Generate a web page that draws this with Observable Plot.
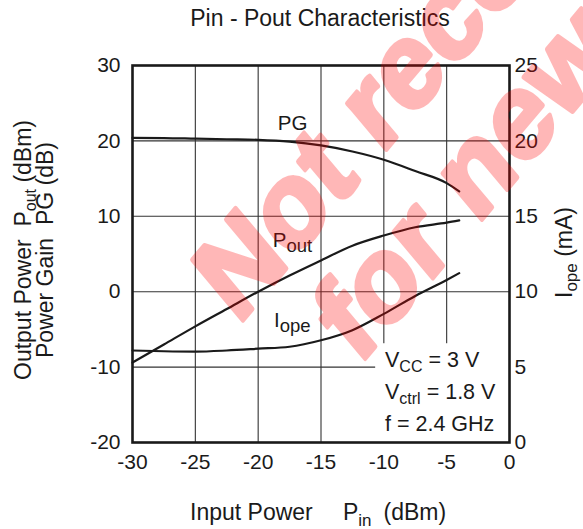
<!DOCTYPE html>
<html><head><meta charset="utf-8">
<script src="https://cdn.jsdelivr.net/npm/d3@7"></script>
<script src="https://cdn.jsdelivr.net/npm/@observablehq/plot@0.6"></script>
<style>body{margin:0;background:#fff} svg{display:block}</style>
</head><body><div id="chart"></div>
<script>
// Data
const pinDbm  = [-30, -27.5, -25, -22.5, -20, -17.5, -15, -12.5, -10, -7.5, -5, -4];
const pgDb    = [20.4, 20.38, 20.3, 20.22, 20.14, 19.9, 19.4, 18.6, 17.5, 16.0, 14.4, 13.3];
const poutDbm = [-9.4, -7.0, -4.6, -2.3, 0.0, 2.15, 4.15, 6.1, 7.45, 8.55, 9.15, 9.45];
const iopeMa  = [6.1, 6.05, 6.03, 6.1, 6.22, 6.35, 6.78, 7.45, 8.53, 9.72, 10.78, 11.23];
const xTicks  = [-30, -25, -20, -15, -10, -5, 0];
const yTicks  = [-20, -10, 0, 10, 20, 30];
const iTicks  = [0, 5, 10, 15, 20, 25];
const curveLabels = ["PG", "P", "I"];
const curveSubs   = ["", "out", "ope"];
const labelX = [-18.4, -18.8, -18.7];
const labelY = [21.4, 5.9, -4.7];
const conditions = [["V", "CC", " = 3 V"], ["V", "ctrl", " = 1.8 V"], ["f = 2.4 GHz", "", ""]];
const condBox = {x1: -10.65, x2: 0, y1: -20, y2: -6.9};

const font = "'Liberation Sans', Arial, Helvetica, sans-serif";
const ink = "#1a1a1a";
const toLeft = m => 2 * m - 20;   // right axis (mA) -> left axis units
const rows = pinDbm.map((x, i) => ({x, pg: pgDb[i], pout: poutDbm[i], iope: toLeft(iopeMa[i])}));
const hyphen = d => String(d);

const plot = Plot.plot({
  width: 583, height: 529,
  marginTop: 65, marginBottom: 87, marginLeft: 132, marginRight: 74,
  x: {domain: [-30, 0]},
  y: {domain: [-20, 30]},
  style: {fontFamily: font, fontSize: "21px", color: ink, background: "#fff", overflow: "visible"},
  marks: [
    Plot.ruleX(xTicks.slice(1, -1), {stroke: "#333", strokeWidth: 1.1}),
    Plot.ruleY(yTicks.slice(1, -1), {stroke: "#333", strokeWidth: 1.1}),
    Plot.rect([condBox], {x1: "x1", x2: "x2", y1: "y1", y2: "y2", fill: "#fff"}),
    Plot.line(rows, {x: "x", y: "pg", curve: "monotone-x", stroke: ink, strokeWidth: 2.2}),
    Plot.line(rows, {x: "x", y: "pout", curve: "monotone-x", stroke: ink, strokeWidth: 2.2}),
    Plot.line(rows, {x: "x", y: "iope", curve: "monotone-x", stroke: ink, strokeWidth: 2.2}),
    Plot.frame({stroke: ink, strokeWidth: 2.6}),
    Plot.axisX(xTicks, {anchor: "bottom", tickSize: 0, tickPadding: 12, label: null, fontSize: 21, tickFormat: hyphen}),
    Plot.axisY(yTicks, {anchor: "left", tickSize: 0, tickPadding: 12, label: null, fontSize: 21, tickFormat: hyphen}),
    Plot.axisY(iTicks.map(toLeft), {anchor: "right", tickSize: 0, tickPadding: 5, label: null, fontSize: 21,
      tickFormat: v => String((v + 20) / 2)})
  ]
});

const svg = d3.select(plot);
const sx = plot.scale("x"), sy = plot.scale("y");
const T = (sel) => sel.attr("font-family", font).attr("fill", ink).attr("text-anchor", "start");

// curve labels
curveLabels.forEach((lab, i) => {
  const t = T(svg.append("text")).attr("x", sx.apply(labelX[i])).attr("y", sy.apply(labelY[i])).attr("font-size", 20.5);
  t.append("tspan").text(lab);
  if (curveSubs[i]) t.append("tspan").attr("dy", 5).attr("font-size", 18.5).text(curveSubs[i]);
});

// conditions
conditions.forEach((c, i) => {
  const t = T(svg.append("text")).attr("x", 385).attr("y", 367 + i * 32).attr("font-size", 21.5);
  t.append("tspan").text(c[0]);
  if (c[1]) {
    t.append("tspan").attr("dy", 5).attr("font-size", 16).text(c[1]);
    t.append("tspan").attr("dy", -5).text(c[2]);
  }
});

// title
T(svg.append("text")).attr("x", 320).attr("y", 26).attr("text-anchor", "middle")
  .attr("font-size", 23).text("Pin - Pout Characteristics");

// x-axis title
{
  const t = T(svg.append("text")).attr("y", 520).attr("font-size", 23);
  t.append("tspan").attr("x", 190).text("Input Power");
  t.append("tspan").attr("x", 343).text("P");
  t.append("tspan").attr("dy", 6).attr("font-size", 17).text("in");
  t.append("tspan").attr("dy", -6).attr("dx", 12).text("(dBm)");
}
// left axis titles
{
  const g1 = T(svg.append("text")).attr("transform", "translate(31,380) rotate(-90)").attr("font-size", 23);
  g1.append("tspan").text("Output Power  P");
  g1.append("tspan").attr("dy", 5).attr("font-size", 16).text("out");
  g1.append("tspan").attr("dy", -5).text(" (dBm)");
  const g2 = T(svg.append("text")).attr("transform", "translate(53,358) rotate(-90)").attr("font-size", 23);
  g2.append("tspan").text("Power Gain  PG (dB)");
}
// right axis title
{
  const g = T(svg.append("text")).attr("transform", "translate(572,298) rotate(-90)").attr("font-size", 23);
  g.append("tspan").text("I");
  g.append("tspan").attr("dy", 5).attr("font-size", 17).text("ope");
  g.append("tspan").attr("dy", -5).text(" (mA)");
}
// watermark
{
  const g = svg.append("g").attr("transform", "translate(238,326) scale(0.84,1) rotate(-45)")
    .attr("font-family", font).attr("font-weight", "bold").attr("font-size", 124)
    .attr("fill", "#ff0000").attr("stroke", "#ff0000").attr("stroke-width", 5).attr("stroke-linejoin", "round")
    .attr("opacity", 0.28).attr("text-anchor", "middle");
  const w1 = 8.78 * 124;
  g.append("text").attr("x", w1 / 2).attr("y", 0).text("Not recommended");
  g.append("text").attr("x", w1 / 2).attr("y", 130).text("for new designs");
}

document.getElementById("chart").append(plot);
</script>
</body></html>
